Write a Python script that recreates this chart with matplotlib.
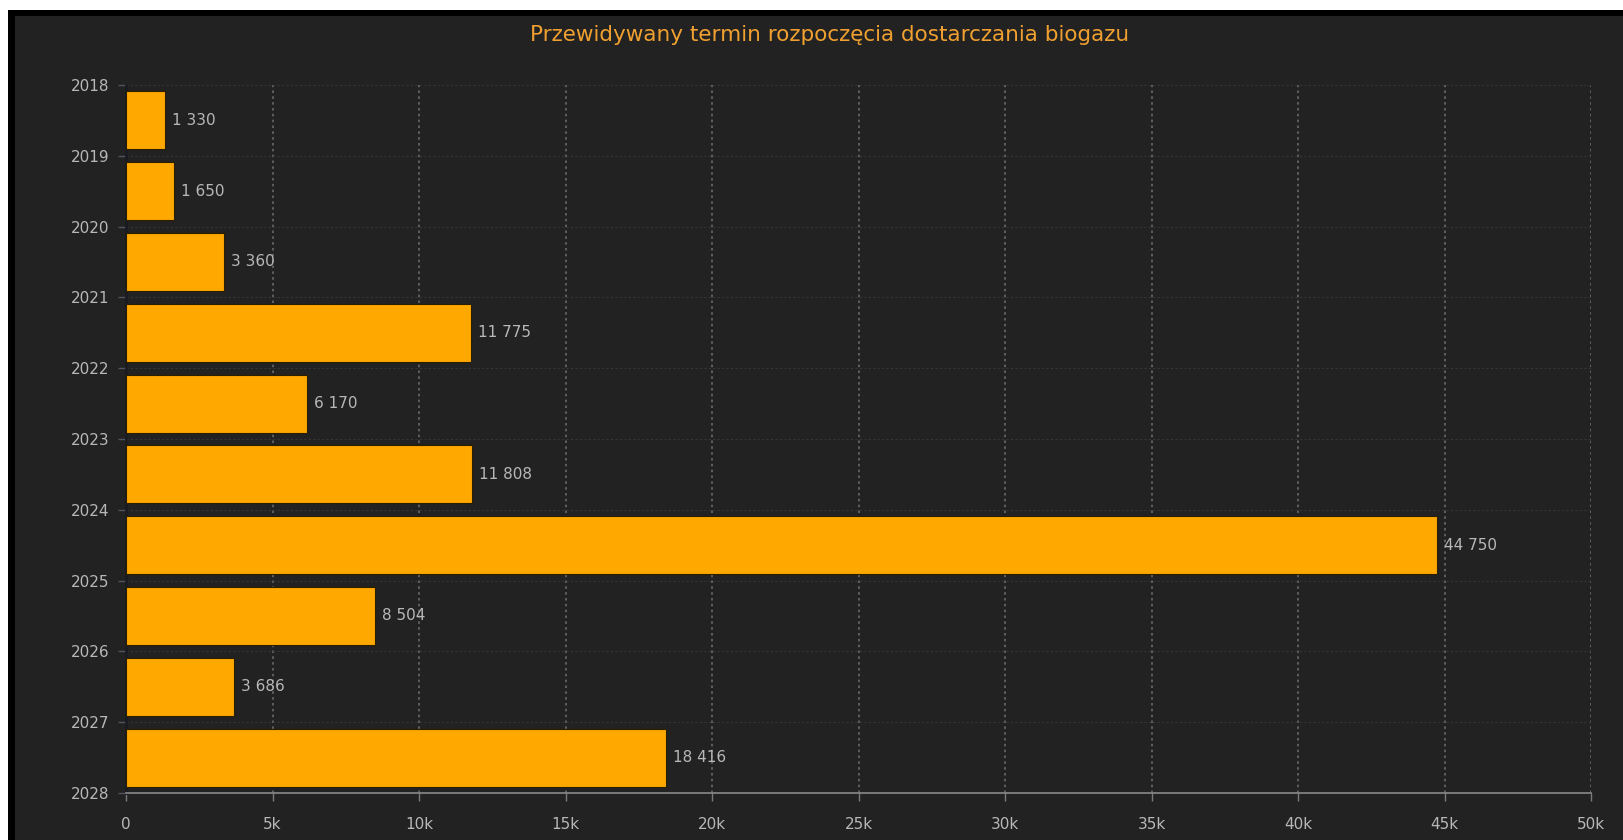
import numpy as np
import matplotlib.pyplot as plt
from matplotlib.patches import Rectangle
from matplotlib.ticker import FuncFormatter

# biogas volume by expected start year
years = [2018, 2019, 2020, 2021, 2022, 2023, 2024, 2025, 2026, 2027]
volumes = [1330, 1650, 3360, 11775, 6170, 11808, 44750, 8504, 3686, 18416]
year_ticks = list(range(2018, 2029))
x_ticks = [0, 5000, 10000, 15000, 20000, 25000, 30000, 35000, 40000, 45000, 50000]

bg = '#222222'
bar_color = '#ffa800'
text_color = '#b8b8b8'

W, H = 1623, 840
fig = plt.figure(figsize=(W / 100, H / 100), dpi=100, facecolor='white')
# frame: black band top/left, then dark panel
fig.patches.append(Rectangle((8 / W, 0), 1, 1 - 10 / H, transform=fig.transFigure,
                             facecolor='black', edgecolor='none', zorder=-2))
fig.patches.append(Rectangle((15 / W, 0), 1, 1 - 16 / H, transform=fig.transFigure,
                             facecolor=bg, edgecolor='none', zorder=-1))

left, right, top, bottom = 126, 1591, 85, 793
ax = fig.add_axes([left / W, 1 - bottom / H, (right - left) / W, (bottom - top) / H])
ax.set_facecolor(bg)

centers = np.array(years) + 0.5
ax.barh(centers, volumes, height=0.82, color=bar_color, edgecolor='#2a2000',
        linewidth=0.8, zorder=3)
for c, v in zip(centers, volumes):
    ax.annotate(f'{v:,}'.replace(',', ' '), (v, c), xytext=(5, 0),
                textcoords='offset points', va='center', ha='left',
                color=text_color, fontsize=11, zorder=4)

ax.set_ylim(2028, 2018)
ax.set_xlim(0, 50000)
ax.set_yticks(year_ticks)
ax.set_xticks(x_ticks)
ax.xaxis.set_major_formatter(FuncFormatter(lambda v, p: '0' if v == 0 else f'{int(v / 1000)}k'))

ax.grid(axis='x', color='#6a6a6a', linestyle=(0, (1.5, 2)), linewidth=1.2, zorder=1)
ax.grid(axis='y', color='#353535', linestyle=(0, (2, 2)), linewidth=0.8, zorder=1)

for s in ['top', 'right']:
    ax.spines[s].set_visible(False)
ax.spines['bottom'].set_color('#8a8a8a')
ax.spines['bottom'].set_linewidth(1.2)
ax.spines['left'].set_color('#1a1c22')
ax.spines['left'].set_linewidth(2)
ax.tick_params(colors=text_color, labelsize=11, length=6, width=1)
ax.tick_params(axis='y', color='#505560', pad=6)
ax.tick_params(axis='x', color='#7a7a7a', pad=11)

fig.text(830 / W, 1 - 35 / H, 'Przewidywany termin rozpoczęcia dostarczania biogazu',
         ha='center', va='center', color='#f0a030', fontsize=15.5)

fig.savefig('out.png', dpi=100, facecolor=fig.get_facecolor())
